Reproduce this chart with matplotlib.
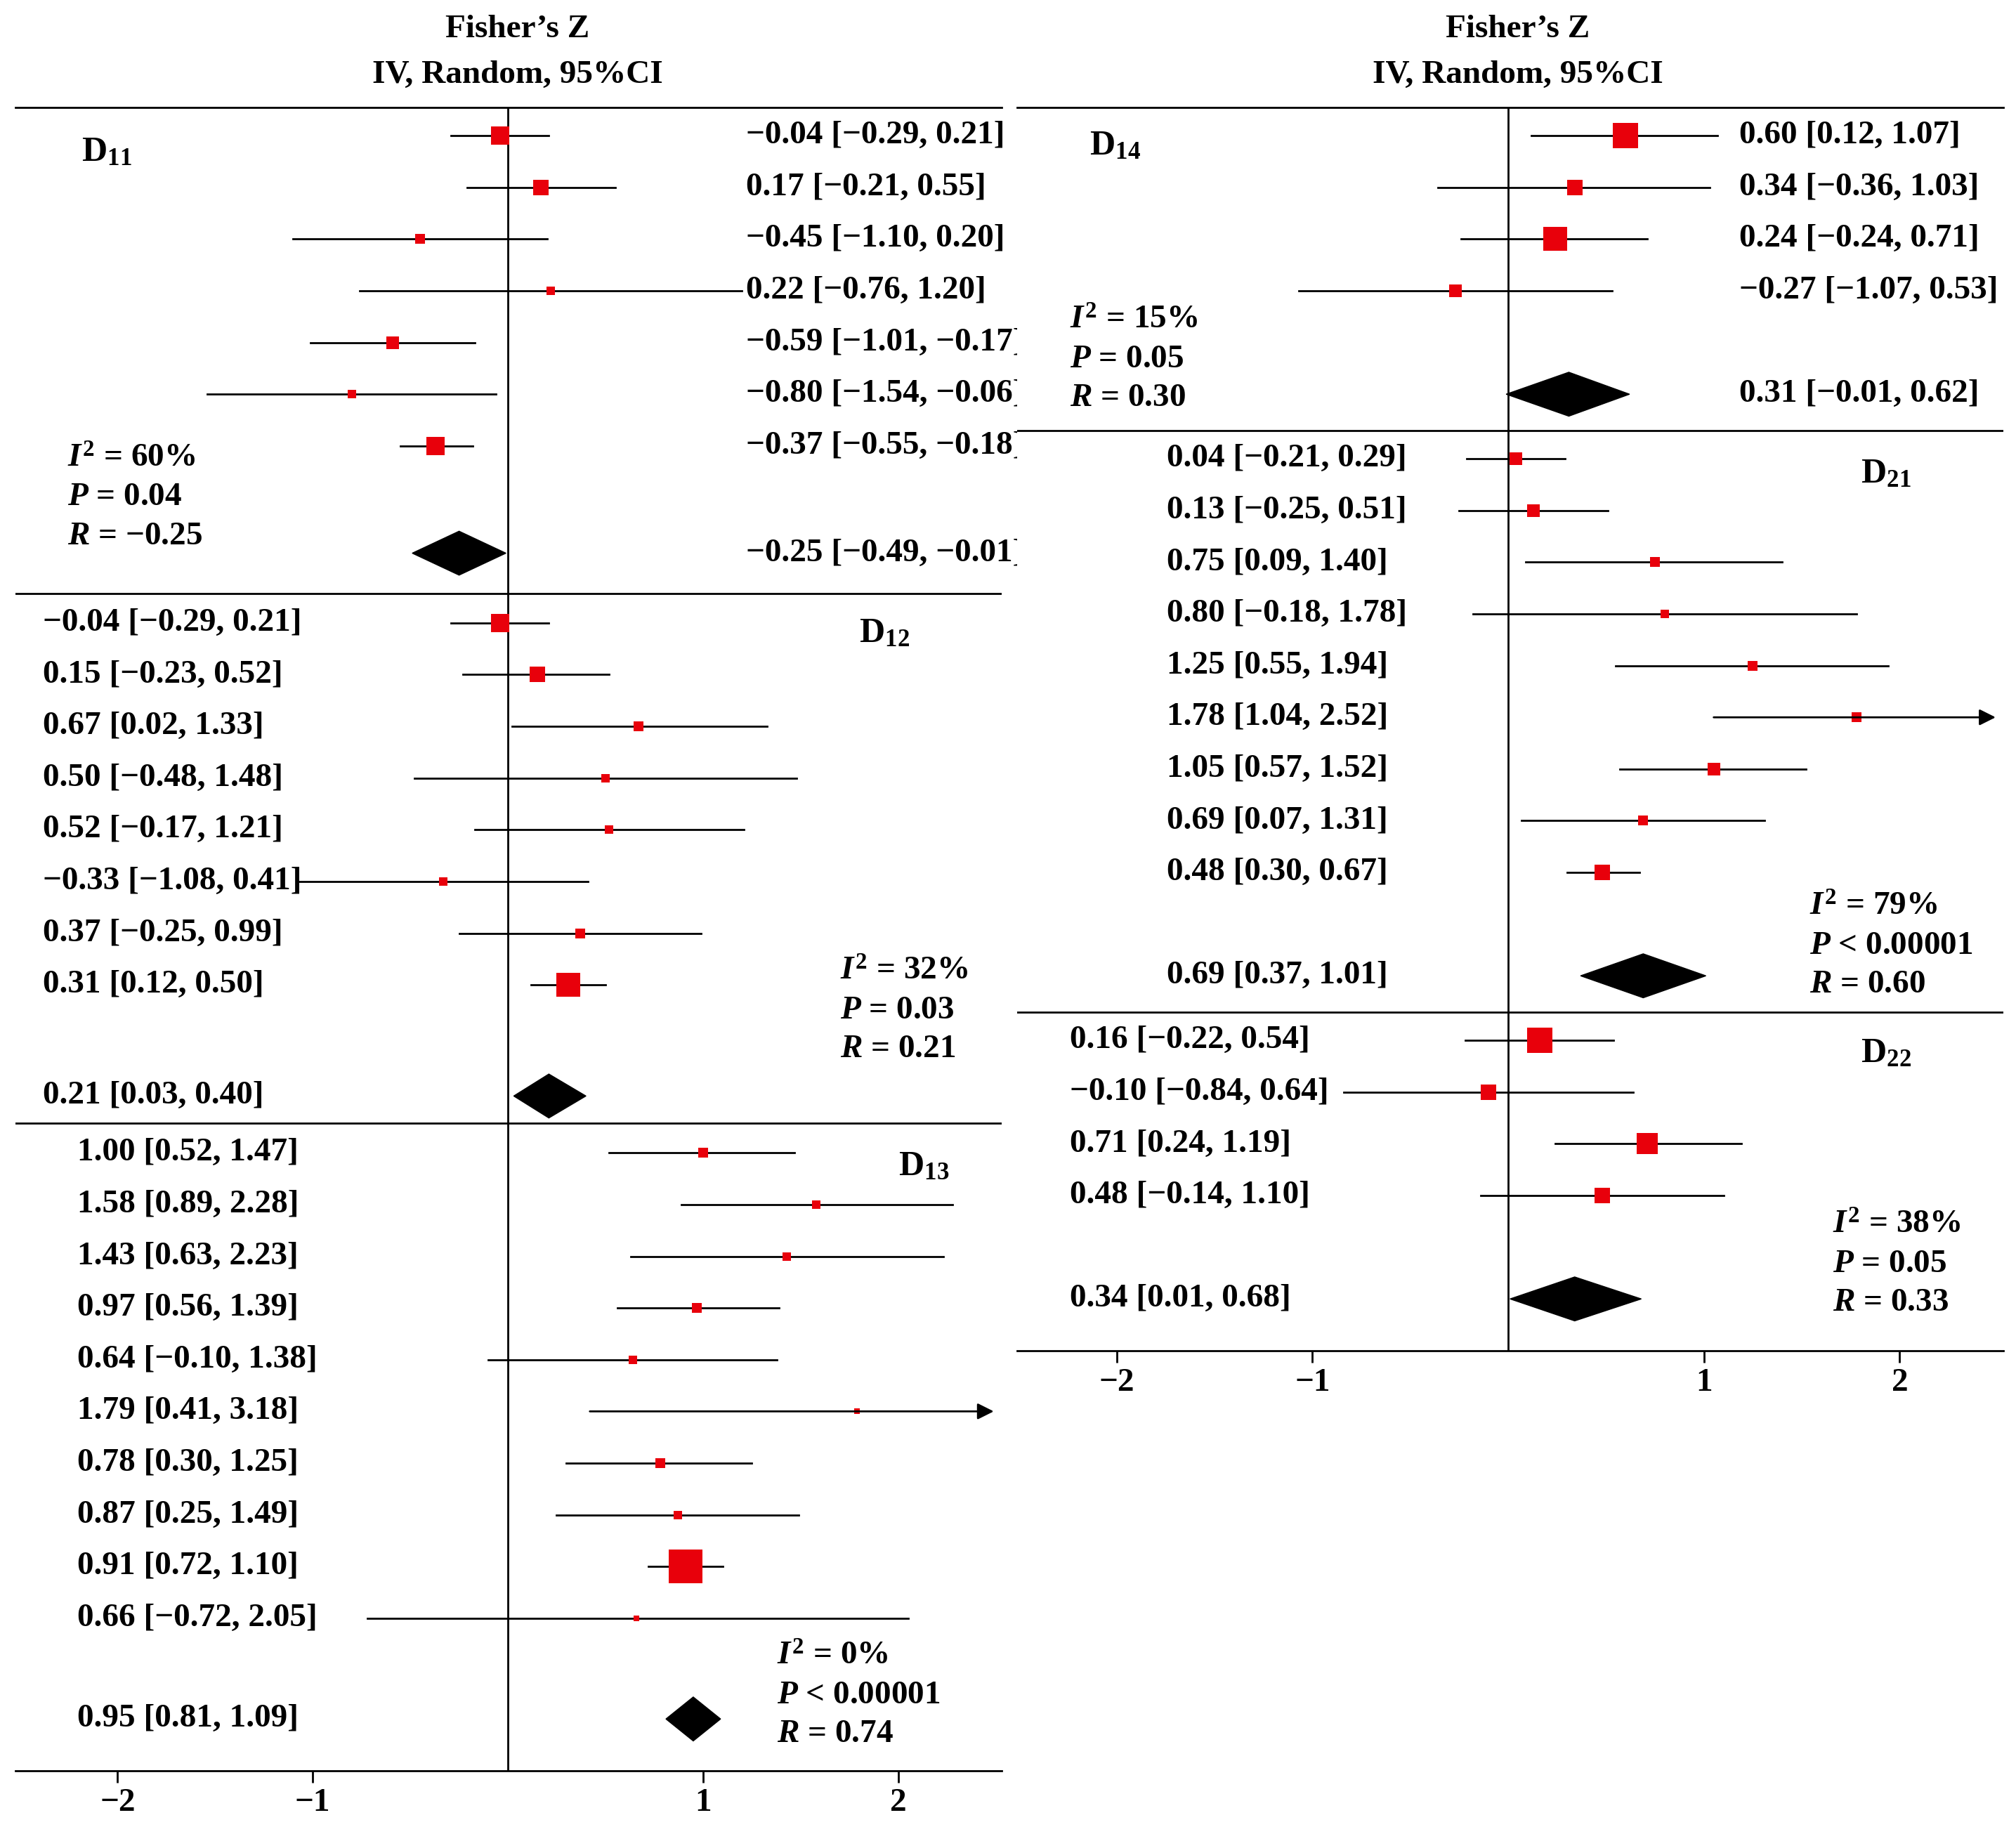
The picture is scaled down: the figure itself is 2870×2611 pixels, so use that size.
import matplotlib.pyplot as plt
from matplotlib.patches import Polygon

plt.rcParams['font.family'] = 'Liberation Serif'
plt.rcParams['font.weight'] = 'bold'
plt.rcParams['mathtext.fontset'] = 'custom'
plt.rcParams['mathtext.rm'] = 'Liberation Serif:bold'
plt.rcParams['mathtext.it'] = 'Liberation Serif:italic:bold'
plt.rcParams['mathtext.bf'] = 'Liberation Serif:bold'

# ---- data ----
d11_est = [-0.04, 0.17, -0.45, 0.22, -0.59, -0.80, -0.37]
d11_lo = [-0.29, -0.21, -1.10, -0.76, -1.01, -1.54, -0.55]
d11_hi = [0.21, 0.55, 0.20, 1.20, -0.17, -0.06, -0.18]
d11_wt = [7, 6, 4, 3, 5, 3, 7]
d11_pool = (-0.25, -0.49, -0.01)
d11_stats = ['60%', '= 0.04', '= −0.25']

d12_est = [-0.04, 0.15, 0.67, 0.50, 0.52, -0.33, 0.37, 0.31]
d12_lo = [-0.29, -0.23, 0.02, -0.48, -0.17, -1.08, -0.25, 0.12]
d12_hi = [0.21, 0.52, 1.33, 1.48, 1.21, 0.41, 0.99, 0.50]
d12_wt = [7, 6, 4, 3, 3, 3, 4, 9]
d12_pool = (0.21, 0.03, 0.40)
d12_stats = ['32%', '= 0.03', '= 0.21']

d13_est = [1.00, 1.58, 1.43, 0.97, 0.64, 1.79, 0.78, 0.87, 0.91, 0.66]
d13_lo = [0.52, 0.89, 0.63, 0.56, -0.10, 0.41, 0.30, 0.25, 0.72, -0.72]
d13_hi = [1.47, 2.28, 2.23, 1.39, 1.38, 3.18, 1.25, 1.49, 1.10, 2.05]
d13_wt = [4, 3, 3, 4, 3, 2, 4, 3, 13, 2]
d13_pool = (0.95, 0.81, 1.09)
d13_stats = ['0%', '< 0.00001', '= 0.74']

d14_est = [0.60, 0.34, 0.24, -0.27]
d14_lo = [0.12, -0.36, -0.24, -1.07]
d14_hi = [1.07, 1.03, 0.71, 0.53]
d14_wt = [10, 6, 9, 5]
d14_pool = (0.31, -0.01, 0.62)
d14_stats = ['15%', '= 0.05', '= 0.30']

d21_est = [0.04, 0.13, 0.75, 0.80, 1.25, 1.78, 1.05, 0.69, 0.48]
d21_lo = [-0.21, -0.25, 0.09, -0.18, 0.55, 1.04, 0.57, 0.07, 0.30]
d21_hi = [0.29, 0.51, 1.40, 1.78, 1.94, 2.52, 1.52, 1.31, 0.67]
d21_wt = [5, 5, 4, 3, 4, 4, 5, 4, 6]
d21_pool = (0.69, 0.37, 1.01)
d21_stats = ['79%', '< 0.00001', '= 0.60']

d22_est = [0.16, -0.10, 0.71, 0.48]
d22_lo = [-0.22, -0.84, 0.24, -0.14]
d22_hi = [0.54, 0.64, 1.19, 1.10]
d22_wt = [10, 6, 8, 6]
d22_pool = (0.34, 0.01, 0.68)
d22_stats = ['38%', '= 0.05', '= 0.33']

FS = 34
XMAX = 2.5


def fmt(v):
    return f'{v:.2f}'.replace('-', '−')


def ci_label(e, l, h):
    return f'{fmt(e)} [{fmt(l)}, {fmt(h)}]'


def draw_group(ax, est, lo, hi, wt, pool, stats, y0, ydia, name, name_xy,
               lab_x, stat_xy):
    for i, (e, l, h, w) in enumerate(zip(est, lo, hi, wt)):
        y = y0 + i * 40
        if h > XMAX:
            ax.annotate('', xy=(XMAX, y), xytext=(l, y),
                        arrowprops=dict(arrowstyle='-|>', color='black', lw=2,
                                        mutation_scale=35))
        else:
            ax.plot([l, h], [y, y], color='black', lw=2)
        ax.plot(e, y, 's', color='#e8000b', ms=2.65 * w, mew=0)
        ax.text(lab_x, y, ci_label(e, l, h), fontsize=FS, va='center', ha='left')
    pe, pl, ph = pool
    ax.add_patch(Polygon([(pl, ydia), (pe, ydia - 17), (ph, ydia), (pe, ydia + 17)],
                         closed=True, color='black'))
    ax.text(lab_x, ydia, ci_label(pe, pl, ph), fontsize=FS, va='center', ha='left')
    ax.text(name_xy[0], name_xy[1], name, fontsize=FS + 2, va='center', ha='left')
    sx, sy = stat_xy
    ax.text(sx, sy, r'$I^2$ = ' + stats[0], fontsize=FS, va='center')
    ax.text(sx, sy + 30, r'$P$ ' + stats[1], fontsize=FS, va='center')
    ax.text(sx, sy + 60, r'$R$ ' + stats[2], fontsize=FS, va='center')


W, H = 1560, 1419
fig = plt.figure(figsize=(28.7, 26.11), dpi=100)


def make_ax(px0, px1, top, bottom, zero, scale):
    ax = fig.add_axes([px0 / W, 1 - bottom / H, (px1 - px0) / W, (bottom - top) / H])
    ax.set_xlim((px0 - zero) / scale, (px1 - zero) / scale)
    ax.set_ylim(bottom, top)
    for s in ['top', 'left', 'right']:
        ax.spines[s].set_visible(False)
    ax.spines['bottom'].set_linewidth(2)
    ax.set_yticks([])
    ax.set_xticks([-2, -1, 1, 2])
    ax.set_xticklabels(['−2', '−1', '1', '2'], fontsize=FS)
    ax.tick_params(axis='x', direction='out', length=12, width=2, pad=6)
    ax.axhline(top, color='black', lw=2, clip_on=False)
    ax.axvline(0, color='black', lw=2)
    ax.text(0.05, top - 60, 'Fisher’s Z', fontsize=FS, ha='center', va='center')
    ax.text(0.05, top - 25, 'IV, Random, 95%CI', fontsize=FS, ha='center', va='center')
    return ax


def px(p, zero, scale):
    return (p - zero) / scale


axL = make_ax(12, 775, 83, 1370, 393, 151)
axR = make_ax(787, 1550, 83, 1045, 1167, 151.5)

L = lambda p: px(p, 393, 151)
R = lambda p: px(p, 1167, 151.5)

for y in [459, 869]:
    axL.axhline(y, color='black', lw=2)
for y in [333, 783]:
    axR.axhline(y, color='black', lw=2)

draw_group(axL, d11_est, d11_lo, d11_hi, d11_wt, d11_pool, d11_stats, 105, 428,
           r'D$_{\mathrm{11}}$', (L(63), 118), L(577), (L(52), 355))
draw_group(axL, d12_est, d12_lo, d12_hi, d12_wt, d12_pool, d12_stats, 482, 848,
           r'D$_{\mathrm{12}}$', (L(665), 490), L(33), (L(650), 752))
draw_group(axL, d13_est, d13_lo, d13_hi, d13_wt, d13_pool, d13_stats, 892, 1330,
           r'D$_{\mathrm{13}}$', (L(695), 903), L(60), (L(601), 1282))
draw_group(axR, d14_est, d14_lo, d14_hi, d14_wt, d14_pool, d14_stats, 105, 305,
           r'D$_{\mathrm{14}}$', (R(843), 113), R(1346), (R(828), 248))
draw_group(axR, d21_est, d21_lo, d21_hi, d21_wt, d21_pool, d21_stats, 355, 755,
           r'D$_{\mathrm{21}}$', (R(1440), 367), R(903), (R(1400), 702))
draw_group(axR, d22_est, d22_lo, d22_hi, d22_wt, d22_pool, d22_stats, 805, 1005,
           r'D$_{\mathrm{22}}$', (R(1440), 815), R(828), (R(1418), 948))

fig.savefig('out.png', dpi=100)
